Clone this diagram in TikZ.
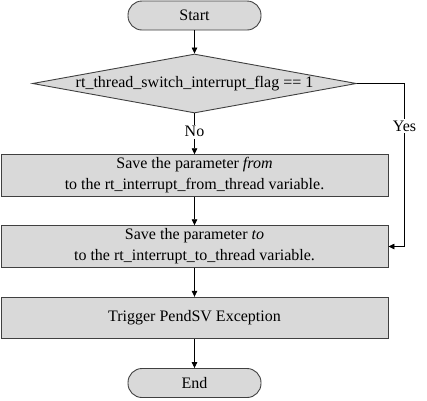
\documentclass[tikz,border=0pt]{standalone}
\usepackage{fontspec}
\setmainfont{Liberation Serif}
\usetikzlibrary{shapes.geometric,arrows.meta}
\begin{document}
\begin{tikzpicture}[x=1pt,y=-1pt,
  font=\fontsize{16}{21}\selectfont,
  term/.style={draw=black!75,fill=black!15,line width=0.9pt,rounded corners=14pt,minimum width=133pt,minimum height=29pt,inner sep=0pt},
  proc/.style={draw=black!75,fill=black!15,line width=0.9pt,minimum width=387pt,minimum height=41.5pt,inner sep=0pt,align=center},
  dec/.style={draw=black!75,fill=black!15,line width=0.9pt,diamond,aspect=5.5,minimum width=324pt,minimum height=59pt,inner sep=0pt},
  conn/.style={draw=black,line width=0.7pt,-{Triangle[length=6pt,width=5.5pt]}},
  lab/.style={fill=white,inner sep=1.5pt}]
\useasboundingbox (0,0) rectangle (427,400);
\node[term] (start) at (194.5,15.5) {Start};
\node[dec] (d) at (194.5,83.5) {rt\_thread\_switch\_interrupt\_flag == 1};
\node[proc] (b1) at (194.5,175.5) {Save the parameter \textit{from}\\to the rt\_interrupt\_from\_thread variable.};
\node[proc] (b2) at (194.5,246.5) {Save the parameter \textit{to}\\to the rt\_interrupt\_to\_thread variable.};
\node[proc] (b3) at (194.5,318) {Trigger PendSV Exception};
\node[term] (end) at (194.5,383) {End};
\coordinate (r) at (404.5,83.5);
\draw[conn] (start) -- (d);
\draw[conn] (d) -- node[lab,pos=0.45] (no) {No} (b1);
\draw[conn] (d.east) -- (r) |- node[lab,pos=0.13] (yes) {Yes} (b2.east);
\draw[conn] (b1) -- (b2);
\draw[conn] (b2) -- (b3);
\draw[conn] (b3) -- (end);
\end{tikzpicture}
\end{document}
